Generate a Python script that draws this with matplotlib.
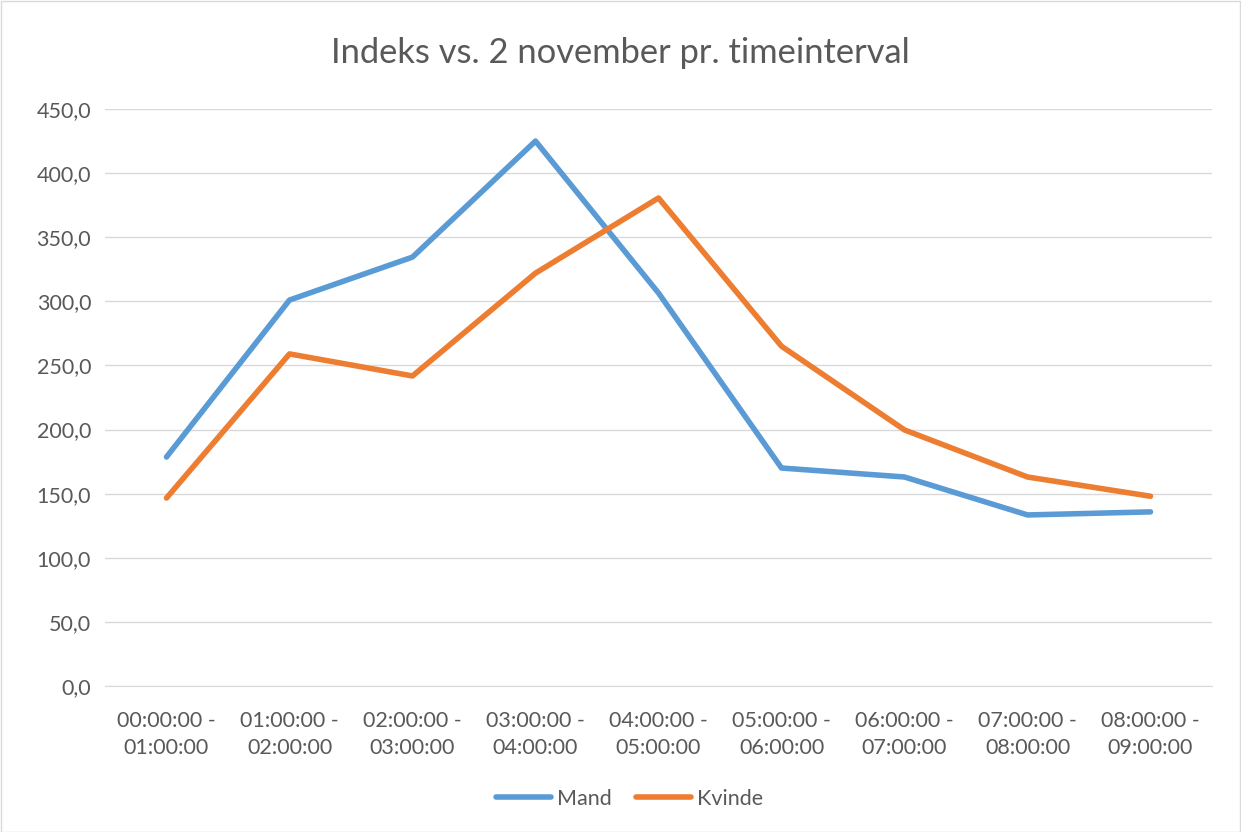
import matplotlib
matplotlib.use("Agg")
import matplotlib.pyplot as plt
from matplotlib.patches import Rectangle

categories = ["00:00:00 -\n01:00:00", "01:00:00 -\n02:00:00", "02:00:00 -\n03:00:00",
              "03:00:00 -\n04:00:00", "04:00:00 -\n05:00:00", "05:00:00 -\n06:00:00",
              "06:00:00 -\n07:00:00", "07:00:00 -\n08:00:00", "08:00:00 -\n09:00:00"]
mand = [178.6, 301.0, 334.5, 425.0, 306.5, 170.0, 163.0, 133.4, 135.8]
kvinde = [146.6, 259.0, 241.8, 322.0, 380.6, 265.0, 199.7, 163.0, 148.0]
yticks = [0, 50, 100, 150, 200, 250, 300, 350, 400, 450]

plt.rcParams['font.family'] = ['Lato', 'DejaVu Sans']
fig = plt.figure(figsize=(12.41, 8.32), dpi=100)
W, H = 1241, 832
ax = fig.add_axes([105 / W, 1 - 686 / H, (1212 - 105) / W, (686 - 109) / H])

x = list(range(len(categories)))
ax.plot(x, mand, color="#5B9BD5", lw=4, label="Mand", solid_capstyle="round", solid_joinstyle="round")
ax.plot(x, kvinde, color="#ED7D31", lw=4, label="Kvinde", solid_capstyle="round", solid_joinstyle="round")

ax.set_xlim(-0.5, len(categories) - 0.5)
ax.set_ylim(0, 450)
ax.set_yticks(yticks)
ax.set_yticklabels([f"{v:.1f}".replace(".", ",") for v in yticks])
ax.set_xticks(x)
ax.set_xticklabels(categories, linespacing=1.45)
ax.tick_params(axis="both", length=0, colors="#595959", labelsize=15.5)
ax.tick_params(axis="y", pad=10)
ax.tick_params(axis="x", pad=18)
ax.grid(axis="y", color="#D9D9D9", lw=1)
ax.set_axisbelow(True)
for s in ["top", "right", "left"]:
    ax.spines[s].set_visible(False)
ax.spines["bottom"].set_color("#D9D9D9")

fig.text(0.5, 1 - 53 / H, "Indeks vs. 2 november pr. timeinterval", ha="center", va="center",
         fontsize=24.8, color="#595959")

leg = fig.legend(loc="center", bbox_to_anchor=(0.5 + 9 / W, 1 - 799 / H), ncol=2, frameon=False,
                 fontsize=15.5, handlelength=2.55, columnspacing=1.1, handletextpad=0.3)
for t in leg.get_texts():
    t.set_color("#595959")

fig.patches.append(Rectangle((0.5 / W, 0.5 / H), 1 - 1.5 / W, 1 - 1.5 / H, transform=fig.transFigure,
                             fill=False, edgecolor="#D9D9D9", lw=1))
fig.savefig("out.png", dpi=100)
